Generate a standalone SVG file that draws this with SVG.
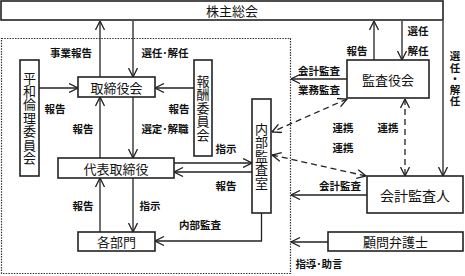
<svg xmlns="http://www.w3.org/2000/svg" width="465" height="276" viewBox="0 0 465 276">
<style>
.box{fill:#fff;stroke:#222;stroke-width:1.6}
.t{font-family:"Noto Sans CJK JP","Noto Sans",sans-serif;font-size:13px;fill:#111;text-anchor:middle;dominant-baseline:central}
.v{font-family:"Noto Sans CJK JP","Noto Sans",sans-serif;font-size:13px;fill:#111;text-anchor:middle;dominant-baseline:central;writing-mode:vertical-rl;text-orientation:upright;letter-spacing:0.4px}
.l{font-family:"Noto Sans CJK JP","Noto Sans",sans-serif;font-size:10.5px;font-weight:bold;fill:#111;text-anchor:middle;dominant-baseline:central}
.lv{font-family:"Noto Sans CJK JP","Noto Sans",sans-serif;font-size:10.5px;font-weight:bold;fill:#111;text-anchor:middle;dominant-baseline:central;writing-mode:vertical-rl;text-orientation:upright;letter-spacing:0.6px}
.c{fill:none;stroke:#222;stroke-width:1.3}
.d{fill:none;stroke:#222;stroke-width:1.3;stroke-dasharray:6,4}
</style>
<defs>
<marker id="a" viewBox="0 0 10 10" refX="9.5" refY="5" markerWidth="10" markerHeight="10" markerUnits="userSpaceOnUse" orient="auto-start-reverse">
<path d="M0.5,0.5 L9.5,5 L0.5,9.5" fill="none" stroke="#222" stroke-width="1.3"/>
</marker>
</defs>
<rect x="1.5" y="38.5" width="289" height="235" fill="none" stroke="#333" stroke-width="1.2" stroke-dasharray="1.5,1.2"/>
<g id="connectors">
<line class="c" x1="100" y1="77" x2="100" y2="21" marker-end="url(#a)"/>
<line class="c" x1="133" y1="21" x2="133" y2="77" marker-end="url(#a)"/>
<line class="c" x1="39" y1="88" x2="78" y2="88" marker-end="url(#a)"/>
<line class="c" x1="194" y1="88" x2="155" y2="88" marker-end="url(#a)"/>
<line class="c" x1="100" y1="158" x2="100" y2="97" marker-end="url(#a)"/>
<line class="c" x1="133" y1="97" x2="133" y2="158" marker-end="url(#a)"/>
<line class="c" x1="174" y1="163" x2="252" y2="163" marker-end="url(#a)"/>
<line class="c" x1="252" y1="172" x2="174" y2="172" marker-end="url(#a)"/>
<line class="c" x1="100" y1="232" x2="100" y2="178" marker-end="url(#a)"/>
<line class="c" x1="133" y1="178" x2="133" y2="232" marker-end="url(#a)"/>
<path class="c" d="M261.5,213 V241 H155" marker-end="url(#a)"/>
<line class="c" x1="374" y1="60" x2="374" y2="21" marker-end="url(#a)"/>
<line class="c" x1="402" y1="21" x2="402" y2="60" marker-end="url(#a)"/>
<line class="c" x1="443" y1="21" x2="443" y2="176" marker-end="url(#a)"/>
<line class="c" x1="347" y1="79" x2="291" y2="79" marker-end="url(#a)"/>
<line class="d" x1="347" y1="99" x2="272" y2="132" marker-start="url(#a)" marker-end="url(#a)"/>
<line class="d" x1="272" y1="155" x2="366" y2="176" marker-start="url(#a)" marker-end="url(#a)"/>
<line class="d" x1="405" y1="99" x2="405" y2="176" marker-start="url(#a)" marker-end="url(#a)"/>
<line class="c" x1="367" y1="195" x2="291" y2="195" marker-end="url(#a)"/>
<line class="c" x1="328" y1="242" x2="291" y2="242" marker-end="url(#a)"/>
</g>
<g id="labels">
<text class="l" x="71" y="52">事業報告</text>
<text class="l" x="165" y="52">選任･解任</text>
<text class="l" x="55" y="108">報告</text>
<text class="l" x="179" y="108">報告</text>
<text class="l" x="83" y="128">報告</text>
<text class="l" x="165" y="128">選定･解職</text>
<text class="l" x="226" y="148">指示</text>
<text class="l" x="226" y="185">報告</text>
<text class="l" x="83" y="205">報告</text>
<text class="l" x="150" y="205">指示</text>
<text class="l" x="200" y="224">内部監査</text>
<text class="l" x="357" y="50">報告</text>
<text class="l" x="418" y="30">選任</text>
<text class="l" x="418" y="50">解任</text>
<text class="lv" x="455" y="79">選任・解任</text>
<text class="l" x="319" y="70">会計監査</text>
<text class="l" x="319" y="89">業務監査</text>
<text class="l" x="343" y="127">連携</text>
<text class="l" x="388" y="127">連携</text>
<text class="l" x="343" y="147">連携</text>
<text class="l" x="340" y="185">会計監査</text>
<text class="l" x="319" y="263">指導･助言</text>
</g>
<g id="n-kabunushi"><rect class="box" x="1" y="1" width="442" height="19"/><text class="t" x="232" y="10.5">株主総会</text></g>
<g id="n-torishimari"><rect class="box" x="78" y="77" width="77" height="20"/><text class="t" x="116.5" y="87">取締役会</text></g>
<g id="n-heiwa"><rect class="box" x="20" y="60" width="19" height="116"/><text class="v" x="29.5" y="118">平和倫理委員会</text></g>
<g id="n-hoshu"><rect class="box" x="194" y="60" width="18" height="96"/><text class="v" x="203" y="108">報酬委員会</text></g>
<g id="n-daihyo"><rect class="box" x="58" y="158" width="116" height="20"/><text class="t" x="116" y="168">代表取締役</text></g>
<g id="n-naibu"><rect class="box" x="252" y="99" width="19" height="114"/><text class="v" x="261.5" y="156">内部監査室</text></g>
<g id="n-kakubumon"><rect class="box" x="78" y="232" width="77" height="19"/><text class="t" x="116.5" y="241.5">各部門</text></g>
<g id="n-kansayaku"><rect class="box" x="347" y="60" width="82" height="38"/><text class="t" x="388" y="79">監査役会</text></g>
<g id="n-kaikei"><rect class="box" x="367" y="176" width="96" height="37"/><text class="t" x="415" y="195" style="font-size:14px">会計監査人</text></g>
<g id="n-komon"><rect class="box" x="328" y="232" width="135" height="19"/><text class="t" x="395.5" y="241.5">顧問弁護士</text></g>
</svg>
